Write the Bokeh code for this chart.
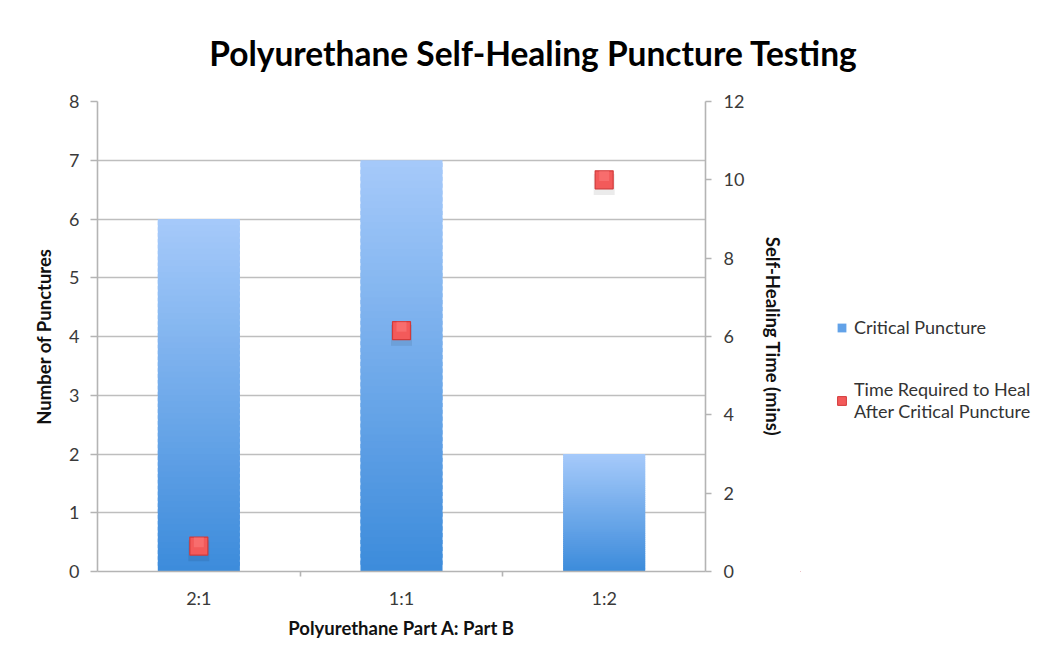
from bokeh.plotting import figure
from bokeh.models import (Range1d, LinearAxis, FixedTicker, Legend, LegendItem, Label)
from bokeh.layouts import row, column
from bokeh.embed import file_html
from bokeh.resources import INLINE

# ---- data ----
categories = ["2:1", "1:1", "1:2"]
punctures = [6, 7, 2]              # left axis: Number of Punctures
heal_time = [0.65, 6.15, 10.0]     # right axis: Self-Healing Time (mins)
left_ticks = [0, 1, 2, 3, 4, 5, 6, 7, 8]
right_ticks = [0, 2, 4, 6, 8, 10, 12]
legend_labels = ["Critical Puncture", "Time Required to Heal\nAfter Critical Puncture"]
title_text = "Polyurethane Self-Healing Puncture Testing"

FONT = "Lato"
HT = 80                  # title strip height
H = 568                  # chart row height
W1, W2 = 800, 240
FL, FT = 97, 21          # frame left / top (within the chart row)
FW, FH = 608, 470

BAR_MID = "#62A2E8"
SQ_FILL, SQ_LINE = "#F35A5A", "#D23A3A"

# ---- title strip ----
tf = figure(width=W1 + W2, height=HT, output_backend="svg", toolbar_location=None,
            x_axis_type=None, y_axis_type=None, min_border=0,
            x_range=Range1d(0, 1), y_range=Range1d(0, 1))
tf.outline_line_color = None
tf.grid.visible = False
tf.background_fill_color = "white"
tf.border_fill_color = "white"
tf.add_layout(Label(x=533, y=HT - 52, x_units="screen", y_units="screen", text=title_text,
                    text_font=FONT, text_font_style="bold", text_font_size="33.5px",
                    text_color="#000000", text_align="center", text_baseline="middle"))

# ---- main chart ----
p = figure(width=W1, height=H, output_backend="svg", toolbar_location=None,
           x_range=Range1d(0, len(categories)), y_range=Range1d(0, 8),
           min_border_left=FL, min_border_right=W1 - FL - FW,
           min_border_top=FT, min_border_bottom=H - FT - FH)
p.outline_line_color = None
p.background_fill_color = "white"
p.border_fill_color = "white"
p.extra_y_ranges = {"time": Range1d(0, 12)}

# gradient bars (slices computed from the bar values)
def lerp(c1, c2, t):
    return "#%02x%02x%02x" % tuple(int(round(a + (b - a) * t)) for a, b in zip(c1, c2))

top_c = (0xA6, 0xCA, 0xFA)
bot_c = (0x3C, 0x8B, 0xDB)
N = 60
xs = [i + 0.5 for i in range(len(categories))]
for k in range(N):
    t0, t1 = k / N, min(1.0, (k + 1.6) / N)
    bottoms = [v * t0 for v in punctures]
    tops = [v * t1 for v in punctures]
    col = lerp(bot_c, top_c, (k + 0.5) / N)
    p.vbar(x=xs, width=0.405, bottom=bottoms, top=tops, fill_color=col, line_color=None)

# markers with soft shadow
p.scatter(x=xs, y=[v - 0.12 for v in heal_time], y_range_name="time", marker="square",
          size=21, fill_color="#000000", fill_alpha=0.08, line_color=None)
p.scatter(x=xs, y=heal_time, y_range_name="time", marker="square", size=18,
          fill_color=SQ_FILL, line_color=SQ_LINE, line_width=1.2)
p.scatter(x=xs, y=[v + 0.1 for v in heal_time], y_range_name="time", marker="square",
          size=10, fill_color="#FF8A8A", fill_alpha=0.4, line_color=None)

# grid
p.xgrid.visible = False
p.ygrid.ticker = FixedTicker(ticks=left_ticks)
p.ygrid.grid_line_color = "#BEBEBE"
p.ygrid.grid_line_width = 1.6

# axes
axis_col = "#B4B4B4"
p.yaxis.ticker = FixedTicker(ticks=left_ticks)
p.yaxis.axis_label = "Number of Punctures"
ry = LinearAxis(y_range_name="time", ticker=FixedTicker(ticks=right_ticks, minor_ticks=[1, 3, 5, 7, 9, 11]),
                axis_label="Self-Healing Time (mins)")
p.add_layout(ry, "right")
for ax in [p.yaxis[0], p.xaxis[0], ry]:
    ax.axis_line_color = axis_col
    ax.axis_line_width = 1.6
    ax.major_tick_line_color = axis_col
    ax.major_tick_line_width = 1.6
    ax.minor_tick_line_color = axis_col
    ax.minor_tick_line_width = 1.6
    ax.major_label_text_font = FONT
    ax.major_label_text_font_size = "18px"
    ax.major_label_text_color = "#3A3A3A"
    ax.axis_label_text_font = FONT
    ax.axis_label_text_font_style = "bold"
    ax.axis_label_text_font_size = "18.5px"
    ax.axis_label_text_color = "#111111"

p.yaxis.major_tick_out = 7
p.yaxis.major_tick_in = 0
p.yaxis.minor_tick_out = 0
p.yaxis.major_label_standoff = 11
p.yaxis.axis_label_standoff = 11

p.xaxis.ticker = FixedTicker(ticks=xs, minor_ticks=[1, 2])
p.xaxis.major_label_overrides = {x: c for x, c in zip(xs, categories)}
p.xaxis.major_tick_out = 0
p.xaxis.major_tick_in = 0
p.xaxis.minor_tick_out = 5
p.xaxis.minor_tick_in = 0
p.xaxis.major_label_standoff = 10
p.xaxis.axis_label = "Polyurethane Part A: Part B"
p.xaxis.axis_label_standoff = 5

ry.major_tick_out = 6
ry.major_tick_in = 0
ry.minor_tick_out = 0
ry.minor_tick_in = 0
ry.major_label_standoff = 12
ry.axis_label_standoff = 15

# ---- legend (in a small companion figure to the right) ----
lf = figure(width=W2, height=H, output_backend="svg", toolbar_location=None,
            x_axis_type=None, y_axis_type=None, min_border=0,
            x_range=Range1d(0, 1), y_range=Range1d(0, 1))
lf.outline_line_color = None
lf.grid.visible = False
lf.background_fill_color = "white"
lf.border_fill_color = "white"
# proxy renderers: their only point lies outside the visible range, they serve the legend
r_bar = lf.vbar(x=[-5], top=[-5], width=0.1, fill_color=BAR_MID, line_color=None)
r_sq = lf.vbar(x=[-5], top=[-5], width=0.1, fill_color=SQ_FILL, line_color=SQ_LINE, line_width=1)
leg = Legend(items=[LegendItem(label=legend_labels[0], renderers=[r_bar]),
                    LegendItem(label=legend_labels[1], renderers=[r_sq])],
             location=(36, 149), orientation="vertical",
             glyph_width=11, glyph_height=11, spacing=40, padding=0, margin=0,
             label_text_font=FONT, label_text_font_size="18px", label_text_color="#333333",
             label_text_line_height=1.35,
             label_standoff=7, border_line_color=None, background_fill_alpha=0)
lf.add_layout(leg)

layout = column(tf, row(p, lf))
open("out.html", "w").write(file_html(layout, INLINE))
